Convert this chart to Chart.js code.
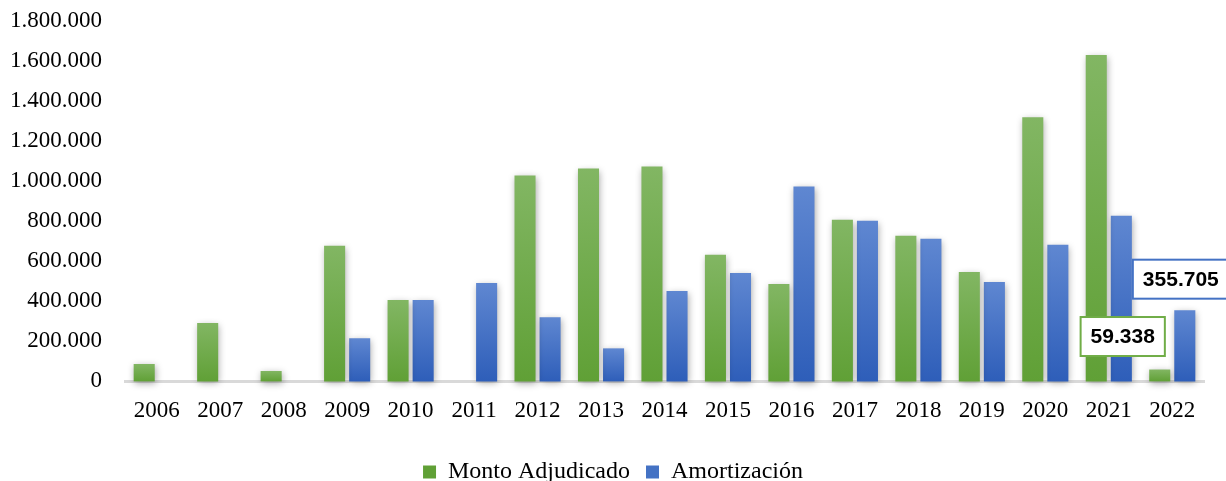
<!DOCTYPE html>
<html lang="es">
<head>
<meta charset="utf-8">
<script src="https://cdn.jsdelivr.net/npm/chart.js@4.4.0/dist/chart.umd.min.js"></script>
<style>
  html, body { margin: 0; padding: 0; background: #fff; }
  #contenedor { width: 1226px; height: 481px; position: relative; }
</style>
</head>
<body>
<div id="contenedor"><canvas id="grafico"></canvas></div>
<script>
// Datos
const anios = ['2006', '2007', '2008', '2009', '2010', '2011', '2012', '2013', '2014',
               '2015', '2016', '2017', '2018', '2019', '2020', '2021', '2022'];
const montoAdjudicado = [87000, 292000, 52000, 677000, 406000, null, 1028000, 1063000, 1073000,
                         632000, 486000, 807000, 727000, 547000, 1319000, 1630000, 59338];
const amortizacion = [null, null, null, 216000, 406000, 491000, 321000, 165000, 451000,
                      541000, 973000, 802000, 712000, 496000, 682000, 827000, 355705];
const ticksY = [0, 200000, 400000, 600000, 800000, 1000000, 1200000, 1400000, 1600000, 1800000];

// formato con punto de miles
const formatoMiles = (v) => String(Math.round(v)).replace(/\B(?=(\d{3})+(?!\d))/g, '.');

/**
 * Degradado vertical por barra (claro arriba, oscuro abajo)
 */
const degradado = (arriba, abajo, medio) => (ctx) => {
    const chart = ctx.chart;
    const { chartArea, scales } = chart;
    if (!chartArea || ctx.type !== 'data' || ctx.raw == null) return medio;
    const yTop = scales.y.getPixelForValue(ctx.raw);
    const yBase = scales.y.getPixelForValue(0);
    if (!isFinite(yTop) || yBase - yTop < 1) return medio;
    const g = chart.ctx.createLinearGradient(0, yTop, 0, yBase);
    g.addColorStop(0, arriba);
    g.addColorStop(1, abajo);
    return g;
};

// sombra suave de las barras
const sombraPlugin = {
    id: 'sombra',
    beforeDatasetsDraw(chart) {
        const c = chart.ctx;
        c.save();
        c.shadowColor = 'rgba(0, 0, 0, 0.35)';
        c.shadowBlur = 7;
        c.shadowOffsetX = 1;
        c.shadowOffsetY = 2;
    },
    afterDatasetsDraw(chart) {
        chart.ctx.restore();
    }
};

// la leyenda va centrada en el lienzo, no en el área de la leyenda
const leyendaPlugin = {
    id: 'leyendaCentrada',
    afterLayout(chart) {
        const lg = chart.legend;
        if (!lg) return;
        const d = (chart.width - (lg.left + lg.right)) / 2;
        lg.left += d;
        lg.right += d;
    }
};

// etiquetas con recuadro del último año
const etiquetas = [
    { dataset: 0, indice: 16, borde: '#70AD47', dx: -37, dy: -33 },
    { dataset: 1, indice: 16, borde: '#4472C4', dx: -4, dy: -31 }
];

const etiquetasPlugin = {
    id: 'etiquetas',
    afterDraw(chart) {
        const c = chart.ctx;
        etiquetas.forEach(e => {
            const el = chart.getDatasetMeta(e.dataset).data[e.indice];
            const valor = chart.data.datasets[e.dataset].data[e.indice];
            if (!el || valor == null) return;
            const texto = formatoMiles(valor);
            c.save();
            c.font = 'bold 21px "Liberation Sans", Arial, sans-serif';
            const w = c.measureText(texto).width + 20;
            const h = 39;
            const cx = el.x + e.dx;
            const cy = el.y + e.dy;
            c.fillStyle = '#fff';
            c.fillRect(cx - w / 2, cy - h / 2, w, h);
            c.lineWidth = 2;
            c.strokeStyle = e.borde;
            c.strokeRect(cx - w / 2, cy - h / 2, w, h);
            c.fillStyle = '#000';
            c.textAlign = 'center';
            c.textBaseline = 'middle';
            c.fillText(texto, cx, cy + 1);
            c.restore();
        });
    }
};

const fuenteSerif = '"Liberation Serif", "Times New Roman", serif';

new Chart(document.getElementById('grafico'), {
    type: 'bar',
    data: {
        labels: anios,
        datasets: [
            {
                label: 'Monto Adjudicado',
                data: montoAdjudicado,
                backgroundColor: degradado('#82B663', '#60A036', '#70AD47'),
                categoryPercentage: 0.79,
                barPercentage: 0.84,
                clip: false
            },
            {
                label: 'Amortización',
                data: amortizacion,
                backgroundColor: degradado('#5F87D1', '#2E5EB9', '#4472C4'),
                categoryPercentage: 0.79,
                barPercentage: 0.84,
                clip: false
            }
        ]
    },
    options: {
        responsive: true,
        maintainAspectRatio: false,
        animation: false,
        layout: { padding: { left: 0, right: 22, top: 0, bottom: -13 } },
        plugins: {
            legend: {
                position: 'bottom',
                labels: {
                    color: '#000',
                    font: { family: fuenteSerif, size: 24 },
                    boxWidth: 13,
                    boxHeight: 13,
                    padding: 16
                }
            },
            tooltip: { enabled: false }
        },
        scales: {
            x: {
                grid: { display: false, drawTicks: false },
                border: { display: true, color: '#D9D9D9', width: 3 },
                ticks: {
                    color: '#000',
                    font: { family: fuenteSerif, size: 23 },
                    padding: 16,
                    maxRotation: 0
                },
                afterFit(scale) {
                    scale.height += 3;
                }
            },
            y: {
                min: 0,
                max: 1800000,
                grid: { display: false, drawTicks: false },
                border: { display: false },
                afterBuildTicks(scale) {
                    scale.ticks = ticksY.map(v => ({ value: v }));
                },
                afterFit(scale) {
                    scale.width = 125;
                    scale.paddingTop = 21;
                    scale.paddingBottom = 0;
                },
                ticks: {
                    color: '#000',
                    font: { family: fuenteSerif, size: 23 },
                    padding: 23,
                    callback: (v) => formatoMiles(v)
                }
            }
        }
    },
    plugins: [sombraPlugin, leyendaPlugin, etiquetasPlugin]
});
</script>
</body>
</html>
